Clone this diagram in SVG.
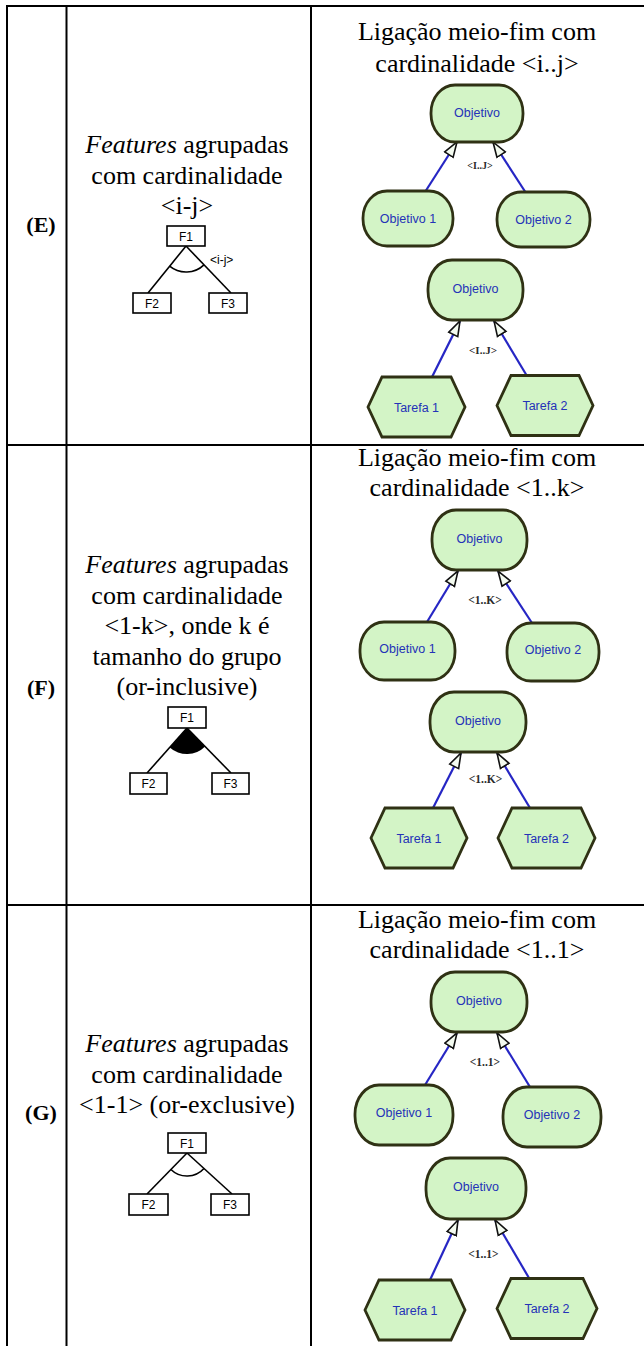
<svg xmlns="http://www.w3.org/2000/svg" width="644" height="1346" viewBox="0 0 644 1346">
<style>
.grid{stroke:#000;stroke-width:2;fill:none}
.body{font-family:"Liberation Serif","Times New Roman",serif;font-size:26px;fill:#000;text-anchor:middle}
.lbl{font-family:"Liberation Serif","Times New Roman",serif;font-size:22px;font-weight:bold;fill:#000;text-anchor:middle}
.fbox{fill:#fff;stroke:#000;stroke-width:1.6}
.ftxt{font-family:"Liberation Sans",Arial,sans-serif;font-size:12px;fill:#000;text-anchor:middle}
.fline{stroke:#000;stroke-width:1.6;fill:none}
.node{fill:#d3f4c6;stroke:#2f3114;stroke-width:2.8}
.ntxt{font-family:"Liberation Sans",Arial,sans-serif;font-size:12.5px;fill:#2432b8;text-anchor:middle}
.conn{stroke:#2626c4;stroke-width:2.2;fill:none;marker-end:url(#ah)}
.card{font-family:"Liberation Serif","Times New Roman",serif;fill:#2a2a2a;text-anchor:middle;font-weight:bold}
</style>
<defs>
<marker id="ah" viewBox="0 0 17 13" refX="16" refY="6.5" markerWidth="17" markerHeight="13" markerUnits="userSpaceOnUse" orient="auto">
<path d="M1,1.5 L16,6.5 L1,11.5 Z" fill="#f4fbf0" stroke="#111" stroke-width="1.6"/>
</marker>
</defs>

<g id="table">
<line class="grid" x1="6" y1="6" x2="644" y2="6"/>
<line class="grid" x1="7" y1="5" x2="7" y2="1346"/>
<line class="grid" x1="66.5" y1="5" x2="66.5" y2="1346"/>
<line class="grid" x1="311" y1="5" x2="311" y2="1346"/>
<line class="grid" x1="6" y1="445" x2="644" y2="445"/>
<line class="grid" x1="6" y1="905" x2="644" y2="905"/>
</g>

<g id="labels">
<text class="lbl" x="41" y="232">(E)</text>
<text class="lbl" x="41" y="695">(F)</text>
<text class="lbl" x="41" y="1120">(G)</text>
</g>

<g id="desc-E">
<text class="body" x="187" y="153"><tspan font-style="italic">Features</tspan> agrupadas</text>
<text class="body" x="187" y="183.5">com cardinalidade</text>
<text class="body" x="187" y="214">&lt;i-j&gt;</text>
</g>
<g id="desc-F">
<text class="body" x="187" y="573"><tspan font-style="italic">Features</tspan> agrupadas</text>
<text class="body" x="187" y="603.5">com cardinalidade</text>
<text class="body" x="187" y="634">&lt;1-k&gt;, onde k é</text>
<text class="body" x="187" y="664.5">tamanho do grupo</text>
<text class="body" x="187" y="695">(or-inclusive)</text>
</g>
<g id="desc-G">
<text class="body" x="187" y="1052"><tspan font-style="italic">Features</tspan> agrupadas</text>
<text class="body" x="187" y="1082.5">com cardinalidade</text>
<text class="body" x="187" y="1113">&lt;1-1&gt; (or-exclusive)</text>
</g>

<g id="title-E">
<text class="body" x="477" y="40">Ligação meio-fim com</text>
<text class="body" x="477" y="72">cardinalidade &lt;i..j&gt;</text>
</g>
<g id="title-F">
<text class="body" x="477" y="466">Ligação meio-fim com</text>
<text class="body" x="477" y="496">cardinalidade &lt;1..k&gt;</text>
</g>
<g id="title-G">
<text class="body" x="477" y="928">Ligação meio-fim com</text>
<text class="body" x="477" y="958">cardinalidade &lt;1..1&gt;</text>
</g>

<!-- feature diagrams -->
<g id="feat-E-edges">
<line class="fline" x1="186" y1="246" x2="148" y2="293"/>
<line class="fline" x1="186" y1="246" x2="231" y2="293"/>
<path class="fline" d="M169.6,266.2 A26,26 0 0 0 204,264.8"/>
<text x="210" y="264" font-family="Liberation Sans, Arial, sans-serif" font-size="12" fill="#000">&lt;i-j&gt;</text>
</g>
<g id="feat-E-F1"><rect class="fbox" x="167" y="226" width="38" height="20"/><text class="ftxt" x="186" y="240.5">F1</text></g>
<g id="feat-E-F2"><rect class="fbox" x="133" y="293" width="38" height="20"/><text class="ftxt" x="152" y="307.5">F2</text></g>
<g id="feat-E-F3"><rect class="fbox" x="209" y="293" width="38" height="20"/><text class="ftxt" x="228" y="307.5">F3</text></g>

<g id="feat-F-edges">
<line class="fline" x1="187" y1="728" x2="147" y2="773"/>
<line class="fline" x1="187" y1="728" x2="231" y2="773"/>
<path d="M187,728 L169.7,747.4 A26,26 0 0 0 205.2,746.6 Z" fill="#000"/>
</g>
<g id="feat-F-F1"><rect class="fbox" x="168" y="707" width="38" height="21"/><text class="ftxt" x="187" y="722">F1</text></g>
<g id="feat-F-F2"><rect class="fbox" x="130" y="773" width="37" height="21"/><text class="ftxt" x="148.5" y="788">F2</text></g>
<g id="feat-F-F3"><rect class="fbox" x="212" y="773" width="37" height="21"/><text class="ftxt" x="230.5" y="788">F3</text></g>

<g id="feat-G-edges">
<line class="fline" x1="187" y1="1153" x2="147" y2="1194"/>
<line class="fline" x1="187" y1="1153" x2="232" y2="1194"/>
<path class="fline" d="M170.9,1169.5 A23,23 0 0 0 204,1168.5"/>
</g>
<g id="feat-G-F1"><rect class="fbox" x="168" y="1133" width="38" height="20"/><text class="ftxt" x="187" y="1147.5">F1</text></g>
<g id="feat-G-F2"><rect class="fbox" x="129" y="1194" width="39" height="21"/><text class="ftxt" x="148.5" y="1209">F2</text></g>
<g id="feat-G-F3"><rect class="fbox" x="211" y="1194" width="38" height="21"/><text class="ftxt" x="230" y="1209">F3</text></g>

<!-- goal model connectors -->
<g id="connectors">
<line class="conn" x1="425" y1="192" x2="457" y2="142"/>
<line class="conn" x1="526" y1="193" x2="493" y2="142"/>
<line class="conn" x1="432" y1="377" x2="460" y2="321"/>
<line class="conn" x1="527" y1="376" x2="494" y2="321"/>
<line class="conn" x1="427" y1="622" x2="458" y2="571"/>
<line class="conn" x1="532" y1="623" x2="498" y2="571"/>
<line class="conn" x1="433" y1="808" x2="461" y2="753"/>
<line class="conn" x1="530" y1="808" x2="497" y2="753"/>
<line class="conn" x1="425" y1="1085" x2="457" y2="1033"/>
<line class="conn" x1="530" y1="1087" x2="497" y2="1033"/>
<line class="conn" x1="430" y1="1280" x2="458" y2="1220"/>
<line class="conn" x1="529" y1="1278" x2="495" y2="1220"/>
<text class="card" x="480" y="169" font-size="10">&lt;I..J&gt;</text>
<text class="card" x="483" y="354" font-size="11">&lt;I..J&gt;</text>
<text class="card" x="485" y="604" font-size="11.5">&lt;1..K&gt;</text>
<text class="card" x="485.5" y="783" font-size="11.5">&lt;1..K&gt;</text>
<text class="card" x="485" y="1066" font-size="11.5">&lt;1..1&gt;</text>
<text class="card" x="483.5" y="1258" font-size="11.5">&lt;1..1&gt;</text>
</g>

<!-- Row E goal nodes -->
<g id="E-obj-a"><rect class="node" x="431" y="85" width="92" height="57" rx="24" ry="28"/><text class="ntxt" x="477" y="117">Objetivo</text></g>
<g id="E-obj1"><rect class="node" x="363" y="191" width="90" height="55" rx="24" ry="27"/><text class="ntxt" x="408" y="223">Objetivo 1</text></g>
<g id="E-obj2"><rect class="node" x="497" y="192" width="93" height="55" rx="24" ry="27"/><text class="ntxt" x="543.5" y="224">Objetivo 2</text></g>
<g id="E-obj-b"><rect class="node" x="428" y="260" width="95" height="60" rx="24" ry="29"/><text class="ntxt" x="475.5" y="293">Objetivo</text></g>
<g id="E-tar1"><polygon class="node" points="368,407 382,377 451,377 465,407 451,437 382,437"/><text class="ntxt" x="416.5" y="411.5">Tarefa 1</text></g>
<g id="E-tar2"><polygon class="node" points="497,405.5 511,375.5 579,375.5 593,405.5 579,435.5 511,435.5"/><text class="ntxt" x="545" y="410">Tarefa 2</text></g>

<!-- Row F goal nodes -->
<g id="F-obj-a"><rect class="node" x="432" y="510" width="95" height="60" rx="24" ry="29"/><text class="ntxt" x="479.5" y="543">Objetivo</text></g>
<g id="F-obj1"><rect class="node" x="360" y="622" width="95" height="58" rx="24" ry="28"/><text class="ntxt" x="407.5" y="653">Objetivo 1</text></g>
<g id="F-obj2"><rect class="node" x="507" y="623" width="92" height="58" rx="24" ry="28"/><text class="ntxt" x="553" y="654">Objetivo 2</text></g>
<g id="F-obj-b"><rect class="node" x="430" y="692" width="96" height="60" rx="24" ry="29"/><text class="ntxt" x="478" y="725">Objetivo</text></g>
<g id="F-tar1"><polygon class="node" points="371,838 385,808 453,808 467,838 453,868 385,868"/><text class="ntxt" x="419" y="842.5">Tarefa 1</text></g>
<g id="F-tar2"><polygon class="node" points="498,838 512,808 581,808 595,838 581,868 512,868"/><text class="ntxt" x="546.5" y="842.5">Tarefa 2</text></g>

<!-- Row G goal nodes -->
<g id="G-obj-a"><rect class="node" x="431" y="972" width="96" height="60" rx="24" ry="29"/><text class="ntxt" x="479" y="1005">Objetivo</text></g>
<g id="G-obj1"><rect class="node" x="355" y="1085" width="98" height="60" rx="24" ry="29"/><text class="ntxt" x="404" y="1117">Objetivo 1</text></g>
<g id="G-obj2"><rect class="node" x="503" y="1087" width="98" height="60" rx="24" ry="29"/><text class="ntxt" x="552" y="1119">Objetivo 2</text></g>
<g id="G-obj-b"><rect class="node" x="426" y="1158" width="100" height="61" rx="24" ry="29"/><text class="ntxt" x="476" y="1191">Objetivo</text></g>
<g id="G-tar1"><polygon class="node" points="365,1310 379,1280 451,1280 465,1310 451,1340 379,1340"/><text class="ntxt" x="415" y="1314.5">Tarefa 1</text></g>
<g id="G-tar2"><polygon class="node" points="497,1308.5 511,1278.5 583,1278.5 597,1308.5 583,1338.5 511,1338.5"/><text class="ntxt" x="547" y="1313">Tarefa 2</text></g>
</svg>
